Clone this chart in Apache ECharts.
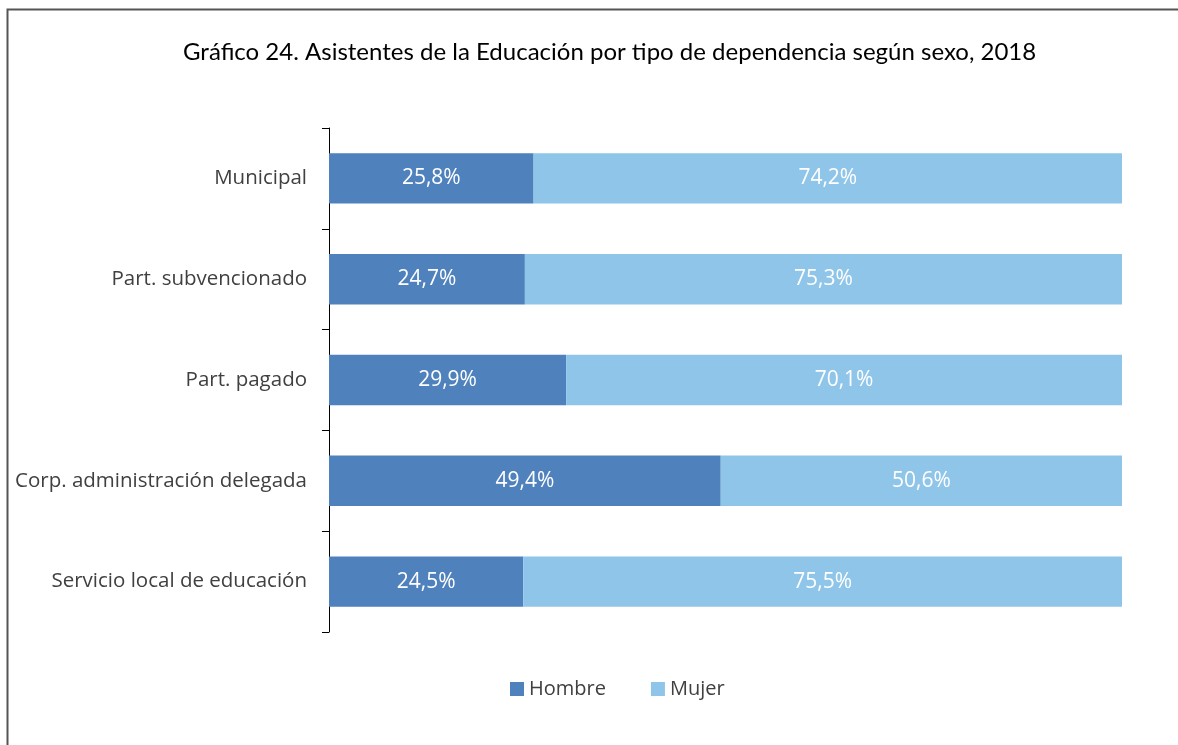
<!DOCTYPE html>
<html>
<head>
<meta charset="utf-8">
<script src="https://cdn.jsdelivr.net/npm/echarts@6/dist/echarts.min.js"></script>
<style>
  html, body { margin: 0; padding: 0; background: #fff; }
  #chart { width: 1178px; height: 745px; }
</style>
</head>
<body>
<div id="chart"></div>
<script>
  var categories = ['Municipal', 'Part. subvencionado', 'Part. pagado', 'Corp. administración delegada', 'Servicio local de educación'];
  var hombre = [25.8, 24.7, 29.9, 49.4, 24.5];
  var mujer = [74.2, 75.3, 70.1, 50.6, 75.5];
  var seriesNames = ['Hombre', 'Mujer'];

  var myChart = echarts.init(document.getElementById('chart'));

  function pctLabel(p) {
    return p.value.toFixed(1).replace('.', ',') + '%';
  }

  var option = {
    animation: false,
    color: ['#4F81BD', '#8FC5E9'],
    title: {
      text: 'Gráfico 24. Asistentes de la Educación por tipo de dependencia según sexo, 2018',
      left: 178,
      top: 35,
      textStyle: {
        fontFamily: 'Lato',
        fontWeight: 'normal',
        fontSize: 24,
        color: '#000'
      }
    },
    graphic: [{
      type: 'rect',
      shape: { x: 7.5, y: 9.5, width: 1200, height: 800 },
      style: { fill: 'none', stroke: '#555', lineWidth: 2 },
      silent: true
    }],
    legend: {
      left: 505,
      top: 674,
      itemWidth: 14,
      itemHeight: 14,
      itemGap: 45,
      icon: 'rect',
      textStyle: { fontFamily: 'Open Sans', fontSize: 20, color: '#404040' },
      data: seriesNames
    },
    grid: {
      left: 329,
      right: 56,
      top: 128,
      bottom: 113
    },
    xAxis: {
      type: 'value',
      min: 0,
      max: 100,
      show: false
    },
    yAxis: {
      type: 'category',
      inverse: true,
      data: categories,
      axisLine: { show: true, lineStyle: { color: '#000', width: 1 } },
      axisTick: { show: true, length: 7, lineStyle: { color: '#000' } },
      axisLabel: {
        margin: 22,
        fontFamily: 'Open Sans',
        fontSize: 20.5,
        color: '#404040'
      }
    },
    series: [{
      name: seriesNames[0],
      type: 'bar',
      stack: 'total',
      barWidth: '50%',
      data: hombre,
      label: {
        show: true,
        position: 'inside',
        formatter: pctLabel,
        color: '#fff',
        fontFamily: 'Open Sans',
        fontSize: 21
      }
    }, {
      name: seriesNames[1],
      type: 'bar',
      stack: 'total',
      barWidth: '50%',
      data: mujer,
      label: {
        show: true,
        position: 'inside',
        formatter: pctLabel,
        color: '#fff',
        fontFamily: 'Open Sans',
        fontSize: 21
      }
    }]
  };

  myChart.setOption(option);
</script>
</body>
</html>
